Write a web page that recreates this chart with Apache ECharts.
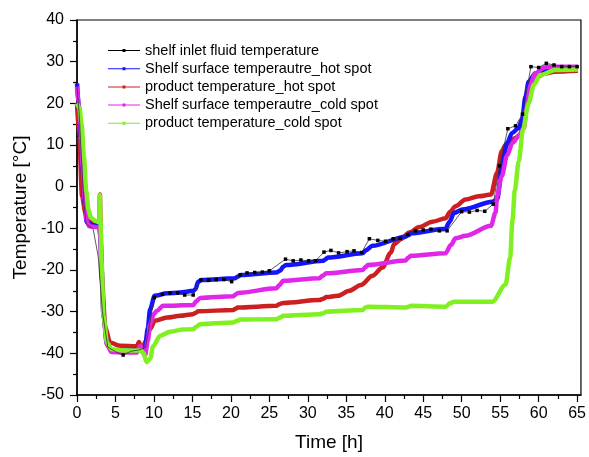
<!DOCTYPE html>
<html>
<head>
<meta charset="utf-8">
<script src="https://cdn.jsdelivr.net/npm/echarts@6/dist/echarts.min.js"></script>
<style>
  html, body { margin: 0; padding: 0; background: #fff; }
  #chart { width: 589px; height: 457px; }
</style>
</head>
<body>
<div id="chart"></div>
<script>
// series names (legend order)
const names = [
  'shelf inlet fluid temperature',
  'Shelf surface temperautre_hot spot',
  'product temperature_hot spot',
  'Shelf surface temperautre_cold spot',
  'product temperature_cold spot'
];
const colors = ['#111111', '#1414ff', '#cc1f1f', '#e026e8', '#80f020'];
const xTicks = [0, 5, 10, 15, 20, 25, 30, 35, 40, 45, 50, 55, 60, 65];

// shelf inlet fluid temperature
const inletT = [0, 0.3, 0.6, 0.9, 1.2, 2.1, 2.75, 3.3, 4.0, 5.0, 6.0, 7.0, 8.0, 8.9, 10.05, 11.1, 12.1, 13.1, 14.0, 15.1,
  16.1, 17.1, 18.1, 19.1, 20.1, 21.2, 22.1, 23.1, 24.1, 25.0, 27.1, 28.1, 29.1, 30.1, 31.0, 32.1, 33.0, 34.0, 35.1, 36.0,
  37.0, 38.0, 39.1, 40.1, 41.1, 42.0, 43.0, 44.0, 45.0, 46.0, 47.1, 48.1, 50.0, 51.0, 52.0, 53.0, 54.1, 54.9, 56.0, 57.0,
  57.9, 59.0, 60.0, 61.0, 62.0, 63.0, 64.0, 65.0];
const inletV = [24, 17, 6, -4, -9, -10.2, -16.7, -30, -38.5, -39.6, -40.4, -39.5, -39.2, -38.6, -26.6, -25.8, -25.5, -25.5, -26.0, -26.0,
  -22.4, -22.4, -22.3, -22.3, -22.8, -21.2, -20.7, -20.6, -20.5, -20.2, -17.4, -17.8, -17.6, -17.8, -17.8, -15.7, -15.3, -15.9, -15.6, -15.4,
  -15.8, -12.5, -12.9, -13.1, -12.5, -12.4, -11.5, -10.6, -10.4, -10.2, -10.6, -10.6, -6.0, -6.1, -5.7, -5.9, -4.2, 5.0, 13.9, 14.6,
  17.4, 28.8, 28.6, 29.6, 29.2, 28.8, 28.8, 28.8];

// shelf surface hot spot
const shelfHotT = [0, 0.2, 0.4, 0.7, 0.95, 1.25, 2.0, 2.9, 3.05, 3.2, 3.45, 3.9, 4.5, 6.0, 8.2, 8.6, 8.85, 9.2, 9.5, 10.1,
  11.7, 13.4, 15.1, 15.4, 15.75, 16.2, 20.5, 20.9, 21.3, 25.9, 26.4, 26.8, 27.2, 32.0, 32.3, 32.6, 37.1, 37.6, 38.4, 42.7,
  43.1, 43.4, 47.9, 48.4, 49.0, 50.1, 54.0, 54.6, 55.3, 55.9, 56.55, 57.4, 57.85, 58.3, 58.7, 59.6, 60.7, 62.0, 65.1];
const shelfHotV = [24.8, 20, 15, 5, -3, -8.5, -9.2, -9.4, -12, -19.8, -31, -37.8, -39.4, -39.4, -39.1, -39.3, -38.5, -34, -29.4, -26.2,
  -25.6, -25.4, -25.0, -24.6, -22.8, -22.4, -22.0, -21.6, -21.2, -20.6, -20.2, -19.2, -18.8, -17.8, -17.4, -17.0, -16.0, -15.2, -14.2, -12.0,
  -11.6, -11.2, -10.1, -8.5, -6.3, -5.5, -3.6, -3.1, 5.7, 10.5, 12.9, 14.1, 16.1, 21.7, 25.2, 27.2, 28.0, 28.2, 28.3];

// product hot spot
const prodHotT = [0, 0.3, 0.65, 1.1, 1.7, 2.1, 2.9, 2.98, 3.05, 3.2, 3.7, 4.3, 5.6, 7.8, 8.05, 8.3, 8.6, 8.85, 9.5, 10.1,
  11.7, 13.4, 15.1, 15.4, 15.75, 20.3, 20.6, 20.9, 25.9, 26.3, 26.8, 31.5, 32.0, 32.4, 33.9, 35.4, 36.9, 38.4, 39.7, 40.8,
  41.2, 42.1, 43.2, 44.5, 46.2, 47.9, 48.5, 49.2, 50.5, 52.2, 53.8, 54.6, 55.2, 55.7, 57.0, 57.6, 58.3, 58.9, 59.8, 60.9,
  62.0, 65.1];
const prodHotV = [20, 12, -2.3, -6.3, -8.0, -8.3, -8.6, -1.9, -9, -22, -34, -37.4, -38.2, -38.3, -37.3, -38.4, -38.6, -37.3, -34.2, -32.2,
  -31.4, -31.0, -30.6, -30.3, -29.9, -29.6, -29.3, -29.0, -28.6, -28.2, -27.9, -27.2, -26.9, -26.5, -26.2, -25.0, -23.6, -21.4, -19.4, -15.8,
  -13.8, -12.6, -11.0, -9.7, -8.4, -7.6, -6.0, -4.7, -3.1, -2.3, -1.9, 3.3, 8.5, 10.0, 11.7, 12.5, 18.5, 24.0, 26.4, 27.2,
  27.6, 27.8];

// shelf surface cold spot
const shelfColdT = [0, 0.2, 0.43, 0.73, 1.0, 1.3, 1.6, 2.9, 3.05, 3.2, 3.45, 3.9, 4.5, 6.0, 7.8, 8.1, 8.25, 8.5, 8.85, 9.2,
  9.5, 10.0, 10.4, 11.2, 15.1, 15.5, 16.0, 20.3, 20.6, 20.9, 25.9, 26.3, 26.8, 31.5, 31.9, 32.4, 37.1, 37.5, 37.8, 42.7,
  43.0, 43.4, 47.9, 48.6, 49.2, 50.5, 53.8, 54.4, 54.6, 55.2, 55.9, 56.6, 57.4, 58.1, 58.4, 58.8, 59.6, 60.7, 62.0, 65.1];
const shelfColdV = [24, 20, 15, 5, -3, -8.5, -9.5, -9.8, -12, -20, -31, -38, -39.7, -39.8, -39.8, -38.5, -38.2, -39.8, -40.5, -37,
  -33, -30.5, -29.8, -28.6, -28.4, -27.5, -26.7, -26.3, -25.9, -25.5, -24.4, -23.6, -22.6, -22.0, -21.4, -20.8, -20.0, -19.3, -18.8, -17.7,
  -17.1, -16.6, -16.0, -14.0, -12.4, -11.8, -9.4, -6.2, -2.3, 2.5, 7.5, 10.5, 12.1, 14.1, 18.5, 24.0, 27.2, 28.6, 28.8, 28.8];

// product cold spot
const prodColdT = [0, 0.3, 0.6, 0.9, 1.2, 1.5, 1.8, 2.5, 2.9, 2.95, 3.05, 3.2, 3.45, 3.9, 4.5, 6.0, 8.3, 8.6, 9.05, 9.5,
  9.9, 10.8, 12.1, 13.8, 15.1, 15.5, 16.0, 20.3, 20.8, 21.2, 25.9, 26.4, 26.8, 31.5, 32.0, 32.4, 37.1, 37.5, 37.8, 42.7,
  43.1, 43.4, 47.9, 48.5, 49.0, 54.0, 55.7, 56.3, 56.6, 56.9, 57.4, 57.97, 58.7, 59.4, 60.2, 62.2, 65.1];
const prodColdV = [20, 19, 15, 7, -1, -5.5, -7.5, -8.3, -8.6, -2, -8, -18.2, -31, -37.4, -39.0, -39.3, -39.3, -39.8, -42.1, -41.3,
  -38.3, -35.8, -34.8, -34.3, -34.2, -33.6, -33.0, -32.6, -32.2, -31.9, -31.8, -31.4, -31.0, -30.6, -30.4, -30.0, -29.6, -29.0, -28.8, -29.0,
  -28.8, -28.6, -28.8, -28.0, -27.6, -27.6, -23.5, -17, -8, -1, 6, 13.7, 20.1, 24.5, 26.8, 28.0, 28.1];

const zip = (t, v) => t.map((x, i) => [x, v[i]]);
const FONT = "Arial, 'Liberation Sans', sans-serif";
// legend icon: thin line with a small square in the middle
const legendIcon = 'path://M0 1H32V2H0Z M14.5 0H17.5V3H14.5Z';

let myChart = echarts.init(document.getElementById('chart'));

function thick(idx, t, v) {
  return {
    name: names[idx],
    type: 'line',
    data: zip(t, v),
    symbol: 'none',
    showSymbol: false,
    smooth: 0.3,
    smoothMonotone: 'x',
    lineStyle: { color: colors[idx], width: 4.5 },
    itemStyle: { color: colors[idx] },
  };
}

let option = {
  animation: false,
  backgroundColor: '#fff',
  textStyle: { fontFamily: FONT, color: '#000' },
  grid: {
    left: 77, right: 7, top: 20, bottom: 61,
    show: true,
    borderColor: '#000',
    borderWidth: 1.2,
  },
  legend: {
    orient: 'vertical',
    left: 108,
    top: 43,
    padding: 0,
    itemWidth: 32,
    itemHeight: 3,
    itemGap: 3.2,
    symbolKeepAspect: false,
    textStyle: { fontFamily: FONT, fontSize: 14.5, color: '#000', lineHeight: 15 },
    data: names.map(n => ({ name: n, icon: legendIcon })),
  },
  xAxis: {
    type: 'value',
    min: 0,
    max: 65.5,
    interval: 5,
    name: 'Time [h]',
    nameLocation: 'middle',
    nameGap: 38,
    nameTextStyle: { fontFamily: FONT, fontSize: 19, color: '#000' },
    axisLine: { onZero: false, lineStyle: { color: '#000', width: 1.5 } },
    axisTick: { length: 7, lineStyle: { color: '#000', width: 1.2 }, customValues: xTicks },
    minorTick: { show: true, splitNumber: 2, length: 4, lineStyle: { color: '#000', width: 1.2 } },
    axisLabel: { fontFamily: FONT, fontSize: 16, color: '#000', margin: 11, customValues: xTicks },
    splitLine: { show: false },
  },
  yAxis: {
    type: 'value',
    min: -50,
    max: 40,
    interval: 10,
    name: 'Temperature [°C]',
    nameLocation: 'middle',
    nameGap: 47,
    nameTextStyle: { fontFamily: FONT, fontSize: 19, color: '#000' },
    axisLine: { onZero: false, lineStyle: { color: '#000', width: 1.5 } },
    axisTick: { length: 7, lineStyle: { color: '#000', width: 1.2 } },
    minorTick: { show: true, splitNumber: 2, length: 4, lineStyle: { color: '#000', width: 1.2 } },
    axisLabel: { fontFamily: FONT, fontSize: 16, color: '#000', margin: 13 },
    splitLine: { show: false },
  },
  series: [
    thick(2, prodHotT, prodHotV),
    thick(1, shelfHotT, shelfHotV),
    thick(3, shelfColdT, shelfColdV),
    thick(4, prodColdT, prodColdV),
    {
      name: names[0],
      type: 'line',
      data: zip(inletT, inletV),
      // early markers sit under the thick curves in the original, only the 6 h one shows
      symbol: (val) => (val[0] < 9.5 && val[0] !== 6.0) ? 'none' : 'rect',
      symbolSize: 3.5,
      showSymbol: true,
      lineStyle: { color: '#333', width: 0.8 },
      itemStyle: { color: '#000' },
    },
  ],
};

myChart.setOption(option);
</script>
</body>
</html>
